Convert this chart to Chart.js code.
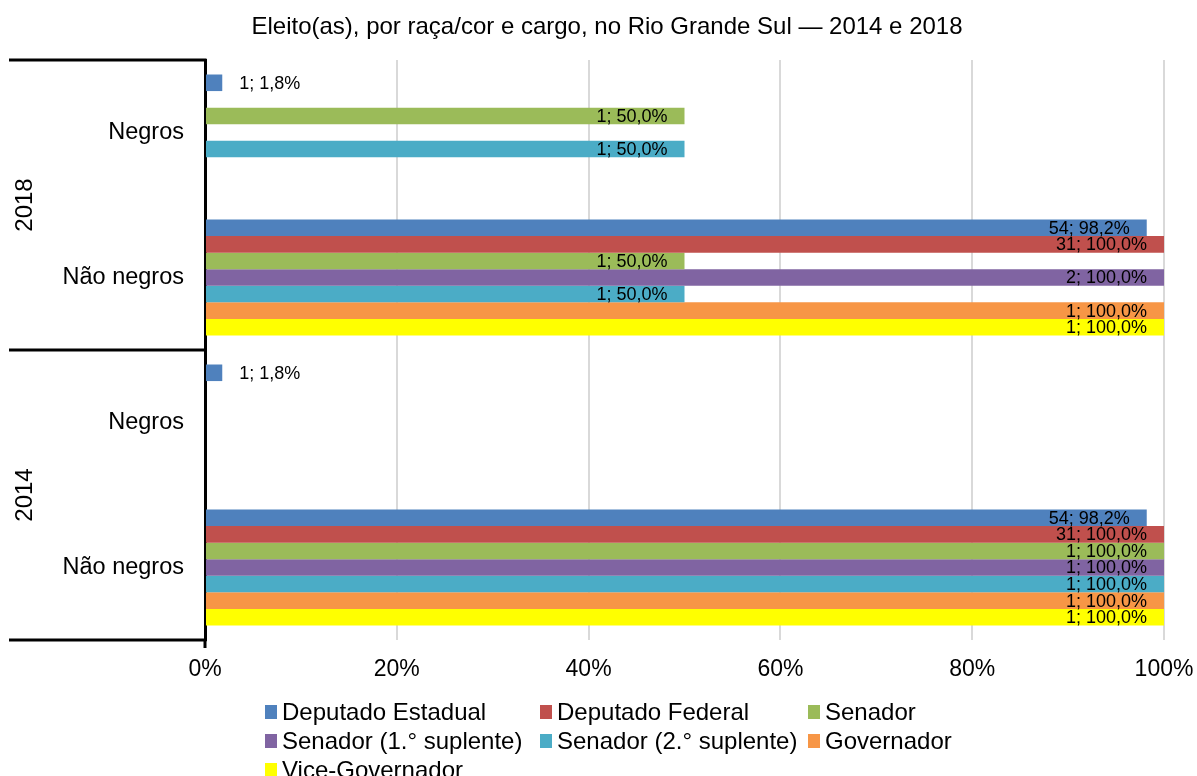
<!DOCTYPE html>
<html lang="pt-BR">
<head>
<meta charset="utf-8">
<title>Eleitos por raça/cor e cargo — RS</title>
<script src="https://cdn.jsdelivr.net/npm/chart.js@4.4.1/dist/chart.umd.min.js"></script>
<style>
  html, body { margin: 0; padding: 0; background: #fff; }
  #wrap { width: 1197px; height: 776px; }
</style>
</head>
<body>
<div id="wrap"><canvas id="chart" width="1197" height="776"></canvas></div>
<script>
const chartTitle = 'Eleito(as), por raça/cor e cargo, no Rio Grande Sul — 2014 e 2018';
const categories = ['Negros', 'Não negros', 'Negros', 'Não negros'];
const yearGroups = ['2018', '2014']; // each year covers two categories
const xTicks = [0, 20, 40, 60, 80, 100];

const seriesNames = [
  'Deputado Estadual', 'Deputado Federal', 'Senador',
  'Senador (1.° suplente)', 'Senador (2.° suplente)', 'Governador',
  'Vice-Governador'
];
const seriesColors = ['#4F81BD', '#C0504D', '#9BBB59', '#8064A2', '#4BACC6', '#F79646', '#FFFF00'];

// share of elected (%) and number elected, per category
const depEstadualPct = [1.8, 98.2, 1.8, 98.2];
const depEstadualN   = [1, 54, 1, 54];
const depFederalPct  = [null, 100, null, 100];
const depFederalN    = [null, 31, null, 31];
const senadorPct     = [50, 50, null, 100];
const senadorN       = [1, 1, null, 1];
const senador1Pct    = [null, 100, null, 100];
const senador1N      = [null, 2, null, 1];
const senador2Pct    = [50, 50, null, 100];
const senador2N      = [1, 1, null, 1];
const governadorPct  = [null, 100, null, 100];
const governadorN    = [null, 1, null, 1];
const viceGovPct     = [null, 100, null, 100];
const viceGovN       = [null, 1, null, 1];

const pctSeries = [depEstadualPct, depFederalPct, senadorPct, senador1Pct, senador2Pct, governadorPct, viceGovPct];
const countSeries = [depEstadualN, depFederalN, senadorN, senador1N, senador2N, governadorN, viceGovN];

const FONT = '"Liberation Sans", Arial, sans-serif';

const datasets = seriesNames.map((name, i) => ({
  label: name,
  data: pctSeries[i],
  counts: countSeries[i],
  backgroundColor: seriesColors[i],
  borderWidth: 0,
  categoryPercentage: 0.8,
  barPercentage: 1.0
}));

// title, centred over the whole figure
const topTitle = {
  id: 'topTitle',
  afterDraw(chart) {
    const ctx = chart.ctx;
    ctx.save();
    ctx.font = '24px ' + FONT;
    ctx.fillStyle = '#000';
    ctx.textAlign = 'center';
    ctx.textBaseline = 'middle';
    ctx.fillText(chartTitle, 607, 27);
    ctx.restore();
  }
};

// "n; p%" labels, inside the bar end, or just outside for very short bars
const barLabels = {
  id: 'barLabels',
  afterDatasetsDraw(chart) {
    const ctx = chart.ctx;
    ctx.save();
    ctx.font = '18px ' + FONT;
    ctx.fillStyle = '#000';
    ctx.textBaseline = 'middle';
    chart.data.datasets.forEach((ds, di) => {
      chart.getDatasetMeta(di).data.forEach((bar, i) => {
        const v = ds.data[i];
        if (v == null) return;
        const text = ds.counts[i] + '; ' + v.toFixed(1).replace('.', ',') + '%';
        if (v < 10) {
          ctx.textAlign = 'left';
          ctx.fillText(text, bar.x + 17, bar.y + 1);
        } else {
          ctx.textAlign = 'right';
          ctx.fillText(text, bar.x - 17, bar.y + 1);
        }
      });
    });
    ctx.restore();
  }
};

// year group lines and rotated year labels on the left
const yearAxis = {
  id: 'yearAxis',
  afterDraw(chart) {
    const ctx = chart.ctx;
    const y = chart.scales.y;
    const left = 9;
    const right = chart.chartArea.left;
    const per = categories.length / yearGroups.length;
    const step = (y.getPixelForTick(1) - y.getPixelForTick(0));
    ctx.save();
    ctx.strokeStyle = '#000';
    ctx.lineWidth = 3;
    for (let g = 0; g <= yearGroups.length; g++) {
      const py = y.getPixelForTick(0) - step / 2 + g * per * step;
      ctx.beginPath();
      ctx.moveTo(left, py);
      ctx.lineTo(right + 1.5, py);
      ctx.stroke();
    }
    ctx.fillStyle = '#000';
    ctx.font = '24px ' + FONT;
    ctx.textAlign = 'center';
    ctx.textBaseline = 'middle';
    yearGroups.forEach((yr, g) => {
      const cy = y.getPixelForTick(0) - step / 2 + (g + 0.5) * per * step;
      ctx.save();
      ctx.translate(25, cy);
      ctx.rotate(-Math.PI / 2);
      ctx.fillText(yr, 0, 0);
      ctx.restore();
    });
    ctx.restore();
  }
};

// three-column legend under the axis
const gridLegend = {
  id: 'gridLegend',
  afterDraw(chart) {
    const ctx = chart.ctx;
    const colX = [265, 540, 808];
    const rowY = [712, 741, 770];
    ctx.save();
    ctx.font = '24px ' + FONT;
    ctx.textAlign = 'left';
    ctx.textBaseline = 'middle';
    chart.data.datasets.forEach((ds, i) => {
      const x = colX[i % 3];
      const yy = rowY[Math.floor(i / 3)];
      ctx.fillStyle = ds.backgroundColor;
      ctx.fillRect(x, yy - 7, 12, 14);
      ctx.fillStyle = '#000';
      ctx.fillText(ds.label, x + 17, yy + 1);
    });
    ctx.restore();
  }
};

new Chart(document.getElementById('chart'), {
  type: 'bar',
  data: { labels: categories, datasets },
  options: {
    responsive: false,
    animation: false,
    indexAxis: 'y',
    layout: { padding: { left: 0, right: 33, top: 60, bottom: 96 } },
    plugins: {
      legend: { display: false },
      tooltip: { enabled: false },
      title: { display: false }
    },
    scales: {
      x: {
        min: 0,
        max: 100,
        afterBuildTicks: (scale) => { scale.ticks = xTicks.map(v => ({ value: v })); },
        afterFit: (scale) => {
          scale.height = 40;
          // the end labels may overhang the plot area
          scale.paddingLeft = 0;
          scale.paddingRight = 0;
        },
        ticks: {
          color: '#000',
          font: { family: FONT, size: 23 },
          padding: 8,
          callback: (v) => v + '%'
        },
        grid: {
          color: '#d9d9d9',
          lineWidth: 2,
          tickLength: 8,
          tickColor: (c) => c.index === 0 ? '#000' : 'rgba(0,0,0,0)',
          tickWidth: (c) => c.index === 0 ? 3 : 1
        },
        border: { display: false }
      },
      y: {
        afterFit: (scale) => { scale.width = 205; },
        ticks: {
          color: '#000',
          font: { family: FONT, size: 23.5 },
          padding: 21
        },
        grid: { display: false, drawTicks: false },
        border: { display: true, color: '#000', width: 3 }
      }
    }
  },
  plugins: [barLabels, yearAxis, gridLegend, topTitle]
});
</script>
</body>
</html>
